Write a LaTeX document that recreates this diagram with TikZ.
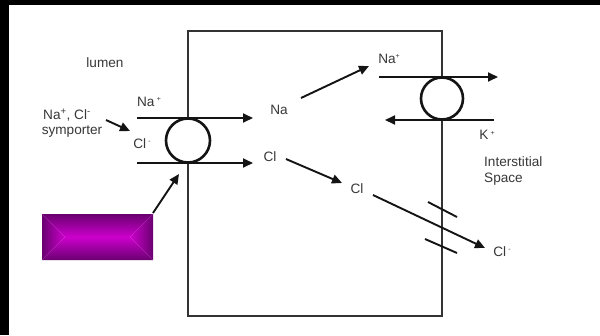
\documentclass[tikz,border=0pt]{standalone}
\usepackage{fontspec}
\setmainfont{Liberation Sans}
\usetikzlibrary{arrows.meta}
\definecolor{purpedge}{RGB}{106,0,112}
\definecolor{purpmid}{RGB}{204,0,204}
\begin{document}
\begin{tikzpicture}[x=1pt,y=-1pt,
 lbl/.style={font=\fontsize{13.6}{15}\selectfont, text=black!78, inner sep=0pt},
 flow/.style={line width=1.9pt, draw=black!92, -{Triangle[length=10pt,width=9pt]}},
 membrane/.style={line width=1.7pt, draw=black!80},
 pump/.style={circle, draw=black!92, line width=2.6pt, fill=white, inner sep=0pt},
 bar/.style={line width=1.9pt, draw=black!92}]
\useasboundingbox (0,0) rectangle (600,335);
\fill[white] (0,0) rectangle (600,335);
\fill[black] (0,0) rectangle (600,5);
\fill[black] (0,0) rectangle (9,335);
% cell
\draw[membrane] (188,31) rectangle (442,316);
% transporters
\node[pump, minimum size=44pt] (sym) at (188,140.5) {};
\node[pump, minimum size=42pt] (pump) at (442,98.5) {};
% purple box with rectangular gradient
\coordinate (pTL) at (42,214); \coordinate (pTR) at (153,214);
\coordinate (pBL) at (42,260); \coordinate (pBR) at (153,260);
\coordinate (pCL) at (65,237); \coordinate (pCR) at (130,237);
\shade[top color=purpedge, bottom color=purpmid] (pTL) -- (pTR) -- (pCR) -- (pCL) -- cycle;
\shade[top color=purpmid, bottom color=purpedge] (pCL) -- (pCR) -- (pBR) -- (pBL) -- cycle;
\shade[left color=purpedge, right color=purpmid] (pTL) -- (pCL) -- (pBL) -- cycle;
\shade[left color=purpmid, right color=purpedge] (pTR) -- (pCR) -- (pBR) -- cycle;
\node[inner sep=0pt, minimum width=111pt, minimum height=46pt] (box) at (97.5,237) {};
% labels
\node[lbl] (lumen) at (105,63) {lumen};
\node[lbl] (symA) at (67,115) {Na\textsuperscript{+}, Cl\textsuperscript{-}};
\node[lbl] (symB) at (72,132) {symporter};
\node[lbl] (naL) at (149,102) {Na\,\raisebox{0.75ex}{\scriptsize +}};
\node[lbl] (clL) at (142,144) {Cl\,\raisebox{0.75ex}{\scriptsize -}};
\node[lbl] (naC) at (279,110) {Na};
\node[lbl] (clC) at (270,157) {Cl};
\node[lbl] (naR) at (389,59) {Na\raisebox{0.75ex}{\scriptsize +}};
\node[lbl] (kR) at (487,135) {K\,\raisebox{0.55ex}{\scriptsize +}};
\node[lbl, anchor=west] (inter) at (484,162) {Interstitial};
\node[lbl, anchor=west] (space) at (484,179) {Space};
\node[lbl] (clC2) at (357,189) {Cl};
\node[lbl] (clR) at (502,252) {Cl\,\raisebox{0.75ex}{\scriptsize -}};
% arrow end points
\coordinate (a1s) at (137,118); \coordinate (a1e) at (253,118);
\coordinate (a2s) at (137,163); \coordinate (a2e) at (253,163);
\coordinate (a3s) at (106,120); \coordinate (a3e) at (130,131);
\coordinate (a4s) at (153,213); \coordinate (a4e) at (179,174);
\coordinate (a5s) at (301,98);  \coordinate (a5e) at (369,66);
\coordinate (a6s) at (286,159); \coordinate (a6e) at (342,183);
\coordinate (a7s) at (379,77);  \coordinate (a7e) at (498,77);
\coordinate (a8s) at (494,120); \coordinate (a8e) at (385,120);
\coordinate (a9s) at (373,195); \coordinate (a9e) at (485,248);
% arrows
\draw[flow] (a1s) -- (a1e);
\draw[flow] (a2s) -- (a2e);
\draw[flow] (a3s) -- (a3e);
\draw[flow] (a4s) -- (a4e);
\draw[flow] (a5s) -- (a5e);
\draw[flow] (a6s) -- (a6e);
\draw[flow] (a7s) -- (a7e);
\draw[flow] (a8s) -- (a8e);
\draw[flow] (a9s) -- (a9e);
% channel bars
\coordinate (b1s) at (428,202); \coordinate (b1e) at (457,217);
\coordinate (b2s) at (425,239); \coordinate (b2e) at (457,253);
\draw[bar] (b1s) -- (b1e);
\draw[bar] (b2s) -- (b2e);
\end{tikzpicture}
\end{document}
